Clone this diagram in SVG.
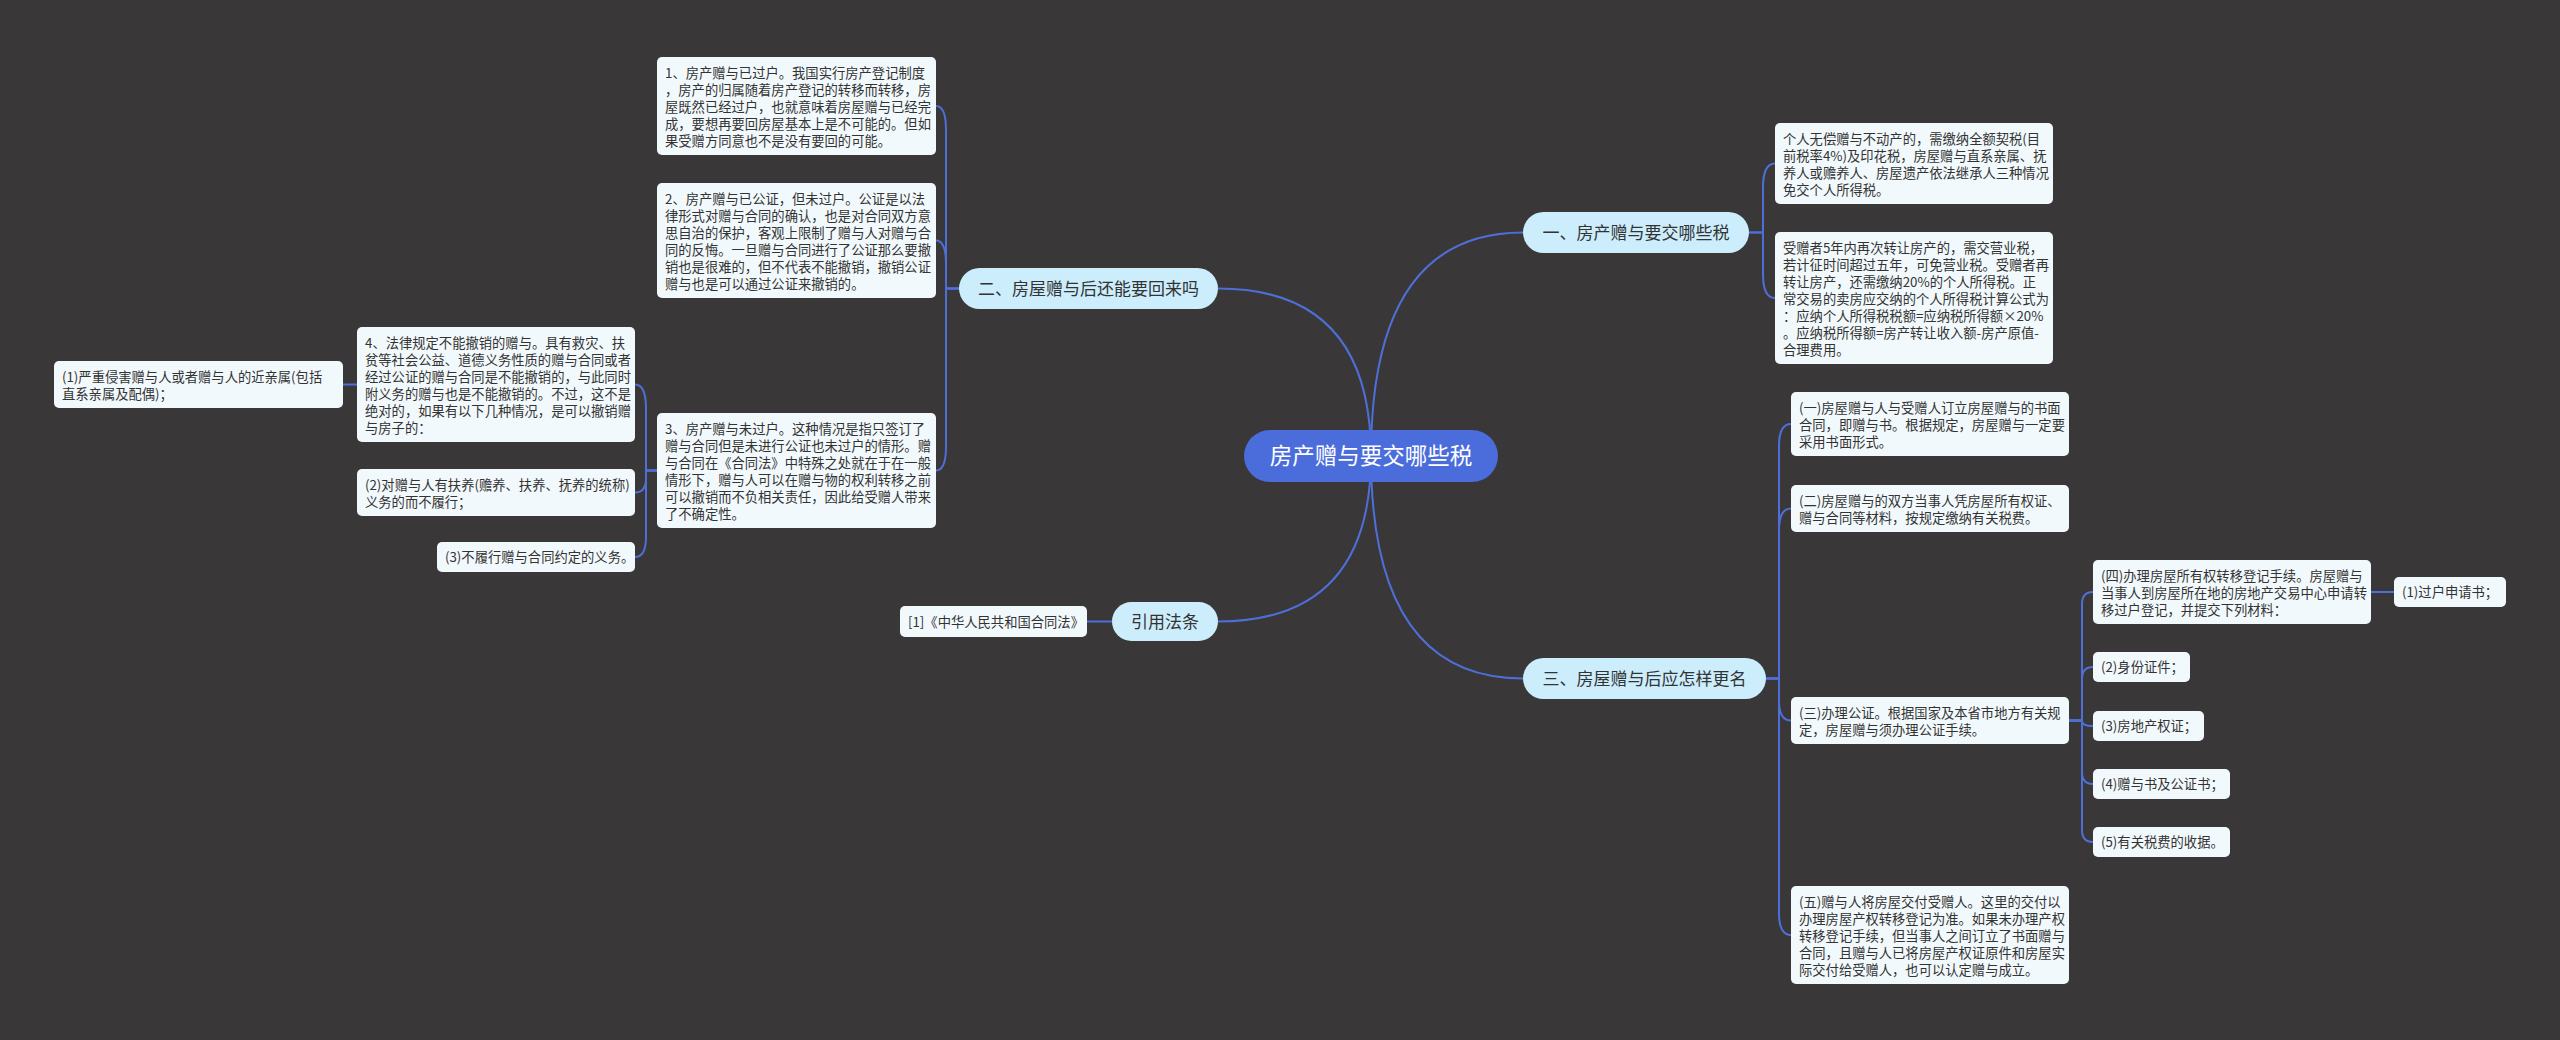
<svg xmlns="http://www.w3.org/2000/svg" width="2560" height="1040" viewBox="0 0 2560 1040">
<style>
.bg{fill:#393738}
.box{fill:#f2f9fc}
.t{font-family:"Noto Sans CJK SC","Noto Sans",sans-serif;font-size:13.3px;fill:#333333}
.main{fill:#cbedfc}
.mt{font-family:"Noto Sans CJK SC","Noto Sans",sans-serif;font-size:17px;fill:#333333;text-anchor:middle}
.root{fill:#4b6ddb}
.rt{font-family:"Noto Sans CJK SC","Noto Sans",sans-serif;font-size:22.5px;fill:#ffffff;text-anchor:middle}
.ln{fill:none;stroke:#4f6fd8;stroke-width:2}
</style>
<rect class="bg" x="0" y="0" width="2560" height="1040"/>
<g id="connectors">
<path class="ln" d="M1371 456 Q1371 232.5 1523 232.5"/>
<path class="ln" d="M1371 456 Q1371 288.5 1218 288.5"/>
<path class="ln" d="M1371 456 Q1371 678.5 1523 678.5"/>
<path class="ln" d="M1371 456 Q1371 621.5 1218 621.5"/>
<path class="ln" d="M959 288.5 H946 V130 Q946 106 936 106"/>
<path class="ln" d="M959 288.5 H946 V264.5 Q946 240.5 936 240.5"/>
<path class="ln" d="M959 288.5 H946 V446.5 Q946 470.5 936 470.5"/>
<path class="ln" d="M657 470.5 H646 V408.5 Q646 384.5 635 384.5"/>
<path class="ln" d="M657 470.5 H646 V478.5 Q646 492.5 635 492.5"/>
<path class="ln" d="M657 470.5 H646 V537 Q646 557 635 557"/>
<path class="ln" d="M357 384.5 H343"/>
<path class="ln" d="M1112 621.5 H1087"/>
<path class="ln" d="M1749 232.5 H1763 V187.5 Q1763 163.5 1775 163.5"/>
<path class="ln" d="M1749 232.5 H1763 V274 Q1763 298 1775 298"/>
<path class="ln" d="M1766 678.5 H1779 V446 Q1779 424 1791 424"/>
<path class="ln" d="M1766 678.5 H1779 V530.5 Q1779 508.5 1791 508.5"/>
<path class="ln" d="M1766 678.5 H1779 V700.5 Q1779 720.5 1791 720.5"/>
<path class="ln" d="M1766 678.5 H1779 V913 Q1779 935 1791 935"/>
<path class="ln" d="M2069 720.5 H2082 V604 Q2082 592 2093 592"/>
<path class="ln" d="M2069 720.5 H2082 V679 Q2082 667 2093 667"/>
<path class="ln" d="M2069 720.5 H2082 V721 Q2082 726 2093 726"/>
<path class="ln" d="M2069 720.5 H2082 V772 Q2082 784 2093 784"/>
<path class="ln" d="M2069 720.5 H2082 V830 Q2082 842 2093 842"/>
<path class="ln" d="M2371 592 H2394"/>
</g>
<g id="root">
<rect class="root" x="1244" y="430" width="254" height="52" rx="26"/>
<text class="rt" x="1371" y="464">房产赠与要交哪些税</text>
</g>
<g id="m1">
<rect class="main" x="1523" y="212" width="226" height="41" rx="20.5"/>
<text class="mt" x="1636" y="238.5">一、房产赠与要交哪些税</text>
</g>
<g id="m2">
<rect class="main" x="959" y="268" width="259" height="41" rx="20.5"/>
<text class="mt" x="1088.5" y="294.5">二、房屋赠与后还能要回来吗</text>
</g>
<g id="m3">
<rect class="main" x="1523" y="658" width="243" height="41" rx="20.5"/>
<text class="mt" x="1644.5" y="684.5">三、房屋赠与后应怎样更名</text>
</g>
<g id="m4">
<rect class="main" x="1112" y="602" width="106" height="39" rx="19.5"/>
<text class="mt" x="1165" y="627.5">引用法条</text>
</g>
<g id="b1">
<rect class="box" x="657" y="57" width="279" height="98" rx="5"/>
<text class="t"><tspan x="665" y="78">1、房产赠与已过户。我国实行房产登记制度</tspan><tspan x="665" y="95">，房产的归属随着房产登记的转移而转移，房</tspan><tspan x="665" y="112">屋既然已经过户，也就意味着房屋赠与已经完</tspan><tspan x="665" y="129">成，要想再要回房屋基本上是不可能的。但如</tspan><tspan x="665" y="146">果受赠方同意也不是没有要回的可能。</tspan></text>
</g>
<g id="b2">
<rect class="box" x="657" y="183" width="279" height="115" rx="5"/>
<text class="t"><tspan x="665" y="204">2、房产赠与已公证，但未过户。公证是以法</tspan><tspan x="665" y="221">律形式对赠与合同的确认，也是对合同双方意</tspan><tspan x="665" y="238">思自治的保护，客观上限制了赠与人对赠与合</tspan><tspan x="665" y="255">同的反悔。一旦赠与合同进行了公证那么要撤</tspan><tspan x="665" y="272">销也是很难的，但不代表不能撤销，撤销公证</tspan><tspan x="665" y="289">赠与也是可以通过公证来撤销的。</tspan></text>
</g>
<g id="b3">
<rect class="box" x="657" y="413" width="279" height="115" rx="5"/>
<text class="t"><tspan x="665" y="434">3、房产赠与未过户。这种情况是指只签订了</tspan><tspan x="665" y="451">赠与合同但是未进行公证也未过户的情形。赠</tspan><tspan x="665" y="468">与合同在《合同法》中特殊之处就在于在一般</tspan><tspan x="665" y="485">情形下，赠与人可以在赠与物的权利转移之前</tspan><tspan x="665" y="502">可以撤销而不负相关责任，因此给受赠人带来</tspan><tspan x="665" y="519">了不确定性。</tspan></text>
</g>
<g id="b4">
<rect class="box" x="357" y="327" width="278" height="115" rx="5"/>
<text class="t"><tspan x="365" y="348">4、法律规定不能撤销的赠与。具有救灾、扶</tspan><tspan x="365" y="365">贫等社会公益、道德义务性质的赠与合同或者</tspan><tspan x="365" y="382">经过公证的赠与合同是不能撤销的，与此同时</tspan><tspan x="365" y="399">附义务的赠与也是不能撤销的。不过，这不是</tspan><tspan x="365" y="416">绝对的，如果有以下几种情况，是可以撤销赠</tspan><tspan x="365" y="433">与房子的：</tspan></text>
</g>
<g id="p1">
<rect class="box" x="54" y="361" width="289" height="47" rx="5"/>
<text class="t"><tspan x="62" y="382">(1)严重侵害赠与人或者赠与人的近亲属(包括</tspan><tspan x="62" y="399">直系亲属及配偶)；</tspan></text>
</g>
<g id="p2">
<rect class="box" x="357" y="469" width="278" height="47" rx="5"/>
<text class="t"><tspan x="365" y="490">(2)对赠与人有扶养(赡养、扶养、抚养的统称)</tspan><tspan x="365" y="507">义务的而不履行；</tspan></text>
</g>
<g id="p3">
<rect class="box" x="437" y="542" width="198" height="30" rx="5"/>
<text class="t" x="445" y="562">(3)不履行赠与合同约定的义务。</text>
</g>
<g id="l1">
<rect class="box" x="900" y="606" width="187" height="31" rx="5"/>
<text class="t" x="908" y="626.5">[1]《中华人民共和国合同法》</text>
</g>
<g id="a">
<rect class="box" x="1775" y="123" width="278" height="81" rx="5"/>
<text class="t"><tspan x="1783" y="144">个人无偿赠与不动产的，需缴纳全额契税(目</tspan><tspan x="1783" y="161">前税率4%)及印花税，房屋赠与直系亲属、抚</tspan><tspan x="1783" y="178">养人或赡养人、房屋遗产依法继承人三种情况</tspan><tspan x="1783" y="195">免交个人所得税。</tspan></text>
</g>
<g id="b">
<rect class="box" x="1775" y="232" width="278" height="132" rx="5"/>
<text class="t"><tspan x="1783" y="253">受赠者5年内再次转让房产的，需交营业税，</tspan><tspan x="1783" y="270">若计征时间超过五年，可免营业税。受赠者再</tspan><tspan x="1783" y="287">转让房产，还需缴纳20%的个人所得税。正</tspan><tspan x="1783" y="304">常交易的卖房应交纳的个人所得税计算公式为</tspan><tspan x="1783" y="321">：应纳个人所得税税额=应纳税所得额×20%</tspan><tspan x="1783" y="338">。应纳税所得额=房产转让收入额-房产原值-</tspan><tspan x="1783" y="355">合理费用。</tspan></text>
</g>
<g id="c1">
<rect class="box" x="1791" y="392" width="278" height="64" rx="5"/>
<text class="t"><tspan x="1799" y="413">(一)房屋赠与人与受赠人订立房屋赠与的书面</tspan><tspan x="1799" y="430">合同，即赠与书。根据规定，房屋赠与一定要</tspan><tspan x="1799" y="447">采用书面形式。</tspan></text>
</g>
<g id="c2">
<rect class="box" x="1791" y="485" width="278" height="47" rx="5"/>
<text class="t"><tspan x="1799" y="506">(二)房屋赠与的双方当事人凭房屋所有权证、</tspan><tspan x="1799" y="523">赠与合同等材料，按规定缴纳有关税费。</tspan></text>
</g>
<g id="c3">
<rect class="box" x="1791" y="697" width="278" height="47" rx="5"/>
<text class="t"><tspan x="1799" y="718">(三)办理公证。根据国家及本省市地方有关规</tspan><tspan x="1799" y="735">定，房屋赠与须办理公证手续。</tspan></text>
</g>
<g id="c5">
<rect class="box" x="1791" y="886" width="278" height="98" rx="5"/>
<text class="t"><tspan x="1799" y="907">(五)赠与人将房屋交付受赠人。这里的交付以</tspan><tspan x="1799" y="924">办理房屋产权转移登记为准。如果未办理产权</tspan><tspan x="1799" y="941">转移登记手续，但当事人之间订立了书面赠与</tspan><tspan x="1799" y="958">合同，且赠与人已将房屋产权证原件和房屋实</tspan><tspan x="1799" y="975">际交付给受赠人，也可以认定赠与成立。</tspan></text>
</g>
<g id="d4">
<rect class="box" x="2093" y="560" width="278" height="64" rx="5"/>
<text class="t"><tspan x="2101" y="581">(四)办理房屋所有权转移登记手续。房屋赠与</tspan><tspan x="2101" y="598">当事人到房屋所在地的房地产交易中心申请转</tspan><tspan x="2101" y="615">移过户登记，并提交下列材料：</tspan></text>
</g>
<g id="e1">
<rect class="box" x="2394" y="577" width="112" height="30" rx="5"/>
<text class="t" x="2402" y="597">(1)过户申请书；</text>
</g>
<g id="e2">
<rect class="box" x="2093" y="652" width="97" height="30" rx="5"/>
<text class="t" x="2101" y="672">(2)身份证件；</text>
</g>
<g id="e3">
<rect class="box" x="2093" y="711" width="111" height="30" rx="5"/>
<text class="t" x="2101" y="731">(3)房地产权证；</text>
</g>
<g id="e4">
<rect class="box" x="2093" y="769" width="137" height="30" rx="5"/>
<text class="t" x="2101" y="789">(4)赠与书及公证书；</text>
</g>
<g id="e5">
<rect class="box" x="2093" y="827" width="137" height="30" rx="5"/>
<text class="t" x="2101" y="847">(5)有关税费的收据。</text>
</g>
</svg>
